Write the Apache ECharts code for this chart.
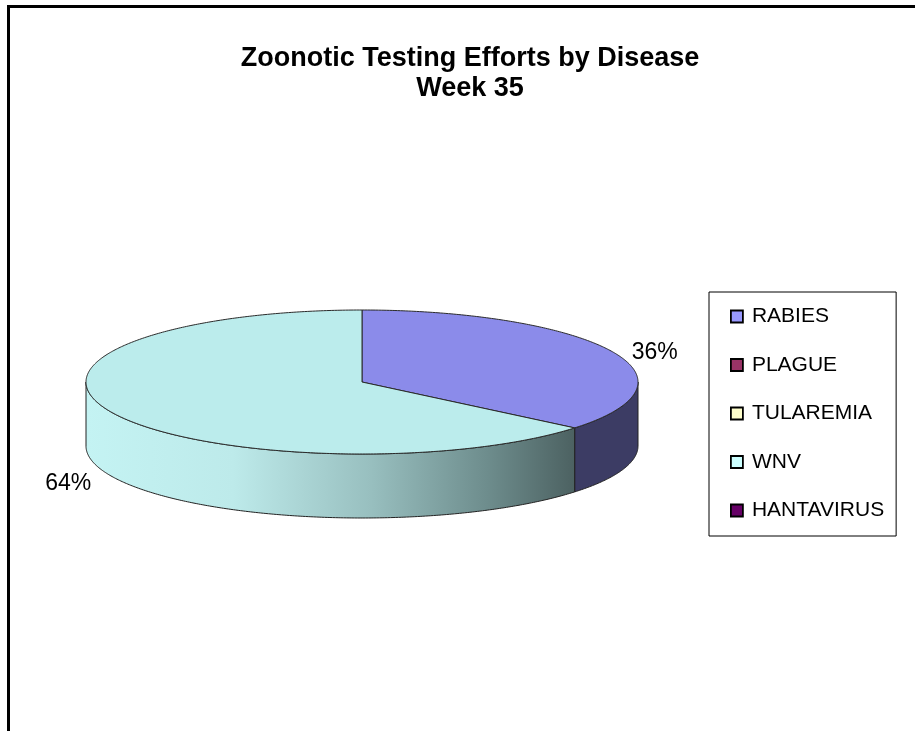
<!DOCTYPE html>
<html><head><meta charset="utf-8">
<script src="https://cdn.jsdelivr.net/npm/echarts@6/dist/echarts.min.js"></script>
<style>html,body{margin:0;padding:0;background:#fff}#c{width:915px;height:731px}</style>
</head><body><div id="c"></div>
<script>
// ---- data ----
const categories = ['RABIES', 'PLAGUE', 'TULAREMIA', 'WNV', 'HANTAVIRUS'];
const shareValues = [36, 0, 0, 64, 0];
const legendColors = ['#9999FF', '#993366', '#FFFFCC', '#CCFFFF', '#660066'];
const topColors = ['#8b8bea', '#8a3a5c', '#e6e6b8', '#bbecec', '#5a005a'];
const wallColors = ['#3c3c64', '#4a1f33', '#7a7a66', null, '#330033'];
const titleText = 'Zoonotic Testing Efforts by Disease\nWeek 35';

// ---- layout ----
const CX = 362, CY = 382, RX = 276, RY = 72, DEPTH = 64;
const FONT = '"Liberation Sans", Arial, sans-serif';

const total = shareValues.reduce((a, b) => a + b, 0);
const starts = [];
(function () { let acc = 0; shareValues.forEach(v => { starts.push(acc); acc += v; }); })();

function ang(frac) { return -Math.PI / 2 + frac * 2 * Math.PI; }
function arc(a0, a1, dy) {
  const pts = [];
  const n = Math.max(2, Math.ceil(Math.abs(a1 - a0) / 0.01));
  for (let k = 0; k <= n; k++) {
    const t = a0 + (a1 - a0) * k / n;
    pts.push([CX + RX * Math.cos(t), CY + RY * Math.sin(t) + dy]);
  }
  return pts;
}

function wnvGradient() {
  return new echarts.graphic.LinearGradient(CX - RX, 0, CX + RX * 0.78, 0, [
    { offset: 0, color: '#c4f3f3' },
    { offset: 0.3, color: '#bdeaea' },
    { offset: 0.58, color: '#98bfbf' },
    { offset: 0.82, color: '#6d8c8c' },
    { offset: 1, color: '#4b6060' }
  ], true);
}

function makeRender(i) {
  return function (params, api) {
    const v = shareValues[i];
    if (!v) return null;
    const a0 = ang(starts[i] / total), a1 = ang((starts[i] + v) / total);
    const children = [];
    const ranges = [];
    for (let base = -2 * Math.PI; base <= 2 * Math.PI; base += 2 * Math.PI) {
      const s = Math.max(a0, base), e = Math.min(a1, base + Math.PI);
      if (e > s) ranges.push([s, e]);
    }
    ranges.forEach(r => {
      const topArc = arc(r[0], r[1], 0);
      const botArc = arc(r[0], r[1], DEPTH).reverse();
      children.push({
        type: 'polygon', z2: 1,
        shape: { points: topArc.concat(botArc) },
        style: { fill: wallColors[i] || wnvGradient(), stroke: '#222', lineWidth: 1 }
      });
    });
    const pts = [[CX, CY]].concat(arc(a0, a1, 0));
    children.push({
      type: 'polygon', z2: 5,
      shape: { points: pts },
      style: { fill: topColors[i], stroke: '#2a2a2a', lineWidth: 1 }
    });
    const mid = (a0 + a1) / 2;
    const px = CX + RX * Math.cos(mid), py = CY + RY * Math.sin(mid);
    const lx = px + (Math.cos(mid) >= 0 ? 43 : -44);
    const ly = py + (Math.sin(mid) > 0 ? DEPTH + 7 : 1);
    children.push({
      type: 'text', z2: 10,
      x: lx, y: ly,
      style: {
        text: Math.round(v / total * 100) + '%',
        fill: '#000', font: '23px ' + FONT,
        align: 'center', verticalAlign: 'middle'
      }
    });
    return { type: 'group', children: children };
  };
}

const series = categories.map((name, i) => ({
  type: 'custom',
  name: name,
  coordinateSystem: 'none',
  silent: true,
  itemStyle: { color: legendColors[i] },
  renderItem: makeRender(i),
  data: [[shareValues[i]]]
}));

const chart = echarts.init(document.getElementById('c'), null, { renderer: 'canvas' });
chart.setOption({
  animation: false,
  backgroundColor: '#fff',
  title: {
    text: titleText,
    left: 465, top: 39, textAlign: 'center',
    textStyle: { fontFamily: FONT, fontSize: 27, fontWeight: 'bold', color: '#000', lineHeight: 30 }
  },
  legend: {
    orient: 'vertical',
    left: 709, top: 292,
    padding: [14, 12, 15, 21],
    borderColor: '#000', borderWidth: 1,
    itemGap: 27.5, itemWidth: 12, itemHeight: 12,
    icon: 'rect',
    itemStyle: { borderColor: '#000', borderWidth: 1.8 },
    textStyle: { fontFamily: FONT, fontSize: 21, color: '#000', lineHeight: 20, padding: [0, 0, 0, 4] },
    data: categories
  },
  graphic: [{
    type: 'rect', silent: true,
    shape: { x: 8.5, y: 6.5, width: 1000, height: 1000 },
    style: { fill: null, stroke: '#000', lineWidth: 3 }
  }],
  series: series
});
</script></body></html>
